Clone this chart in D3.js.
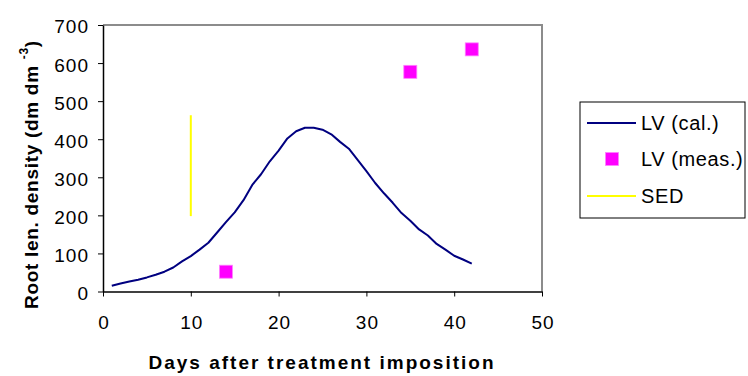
<!DOCTYPE html>
<html>
<head>
<meta charset="utf-8">
<script src="https://cdn.jsdelivr.net/npm/d3@7"></script>
<style>
  html, body { margin: 0; padding: 0; background: #fff; }
  text { font-family: "Liberation Sans", Arial, sans-serif; }
</style>
</head>
<body>
<svg id="chart" width="748" height="376"></svg>
<script>
// ---- data ----
const calDays = [1,2,3,4,5,6,7,8,9,10,11,12,13,14,15,16,17,18,19,20,21,22,23,24,25,26,27,28,29,30,31,32,33,34,35,36,37,38,39,40,41,42];
const calValues = [15,21,26,31,37,44,52,63,79,93,110,128,155,182,208,240,280,308,342,370,402,421,430,430,425,413,393,375,346,316,285,258,233,206,186,163,147,125,110,94,84,73];
const measDays = [14, 35, 42];
const measValues = [52, 577, 636];
const sedDay = [10];
const sedRange = [198, 463];
const xTicks = [0,10,20,30,40,50];
const yTicks = [0,100,200,300,400,500,600,700];
const legendLabels = ["LV (cal.)", "LV (meas.)", "SED"];

const svg = d3.select("#chart");
const pL = 103, pR = 542, pT = 25, pB = 291.5;
const x = d3.scaleLinear().domain([0, 50]).range([pL, pR]);
const y = d3.scaleLinear().domain([0, 700]).range([pB, pT]);

// plot frame (top & right in gray)
svg.append("path")
  .attr("d", `M${pL},${pT}H${pR}V${pB}`)
  .attr("fill", "none").attr("stroke", "#8c8c8c").attr("stroke-width", 2);

// axes
const xAxis = d3.axisBottom(x).tickValues(xTicks).tickSize(5).tickPadding(19).tickSizeOuter(0);
const gx = svg.append("g").attr("transform", `translate(0,${pB})`).call(xAxis);
const yAxis = d3.axisLeft(y).tickValues(yTicks).tickSize(5).tickPadding(9).tickSizeOuter(0);
const gy = svg.append("g").attr("transform", `translate(${pL},0)`).call(yAxis);
[gx, gy].forEach(g => {
  g.select(".domain").attr("stroke", "#000").attr("stroke-width", 1.5);
  g.selectAll(".tick line").attr("stroke", "#000").attr("stroke-width", 1);
  g.selectAll(".tick text").attr("fill", "#000")
    .style("font-family", "'Liberation Sans', Arial, sans-serif")
    .style("font-size", "19px").style("letter-spacing", "1px");
});
gx.selectAll(".tick text").attr("dy", "0.71em").attr("dx", "0.5px");
gy.selectAll(".tick text").attr("dy", "0.42em");

// SED
svg.append("line")
  .attr("x1", x(sedDay[0])).attr("x2", x(sedDay[0]))
  .attr("y1", y(sedRange[0])).attr("y2", y(sedRange[1]))
  .attr("stroke", "#ffff00").attr("stroke-width", 2);

// calculated line
const line = d3.line().x((d, i) => x(calDays[i])).y(d => y(d));
svg.append("path").datum(calValues)
  .attr("d", line).attr("fill", "none")
  .attr("stroke", "#000080").attr("stroke-width", 2).attr("stroke-linejoin", "round");

// measured squares
const sq = 13;
svg.selectAll(".meas").data(measValues).enter().append("rect")
  .attr("x", (d, i) => x(measDays[i]) - sq / 2)
  .attr("y", d => y(d) - sq / 2)
  .attr("width", sq).attr("height", sq)
  .attr("fill", "#ff00ff").attr("stroke", "#ff80ff").attr("stroke-width", 0.8);

// axis titles
svg.append("text")
  .attr("x", 322).attr("y", 369).attr("text-anchor", "middle")
  .style("font-size", "19px").style("font-weight", "bold").style("letter-spacing", "2px")
  .text("Days after treatment imposition");

const yt = svg.append("text")
  .attr("transform", "translate(38,309) rotate(-90)")
  .attr("text-anchor", "start")
  .style("font-size", "19px").style("font-weight", "bold").style("letter-spacing", "0.7px");
yt.append("tspan").text("Root len. density (dm dm ");
yt.append("tspan").attr("dy", -10).style("font-size", "12px").text("-3");
yt.append("tspan").attr("dy", 10).text(")");

// legend
const lg = svg.append("g");
lg.append("rect").attr("x", 580).attr("y", 102).attr("width", 165).attr("height", 116)
  .attr("fill", "#fff").attr("stroke", "#000").attr("stroke-width", 1);
const ly = [123, 159, 196];
lg.append("line").attr("x1", 587).attr("x2", 636).attr("y1", ly[0]).attr("y2", ly[0])
  .attr("stroke", "#000080").attr("stroke-width", 2);
lg.append("rect").attr("x", 612 - sq / 2).attr("y", ly[1] - sq / 2).attr("width", sq).attr("height", sq)
  .attr("fill", "#ff00ff").attr("stroke", "#ff80ff").attr("stroke-width", 0.8);
lg.append("line").attr("x1", 587).attr("x2", 636).attr("y1", ly[2]).attr("y2", ly[2])
  .attr("stroke", "#ffff00").attr("stroke-width", 2);
lg.selectAll(".lt").data(legendLabels).enter().append("text")
  .attr("x", 641).attr("y", (d, i) => ly[i] + 7)
  .style("font-size", "20px").style("letter-spacing", "0.6px")
  .text(d => d);
</script>
</body>
</html>
